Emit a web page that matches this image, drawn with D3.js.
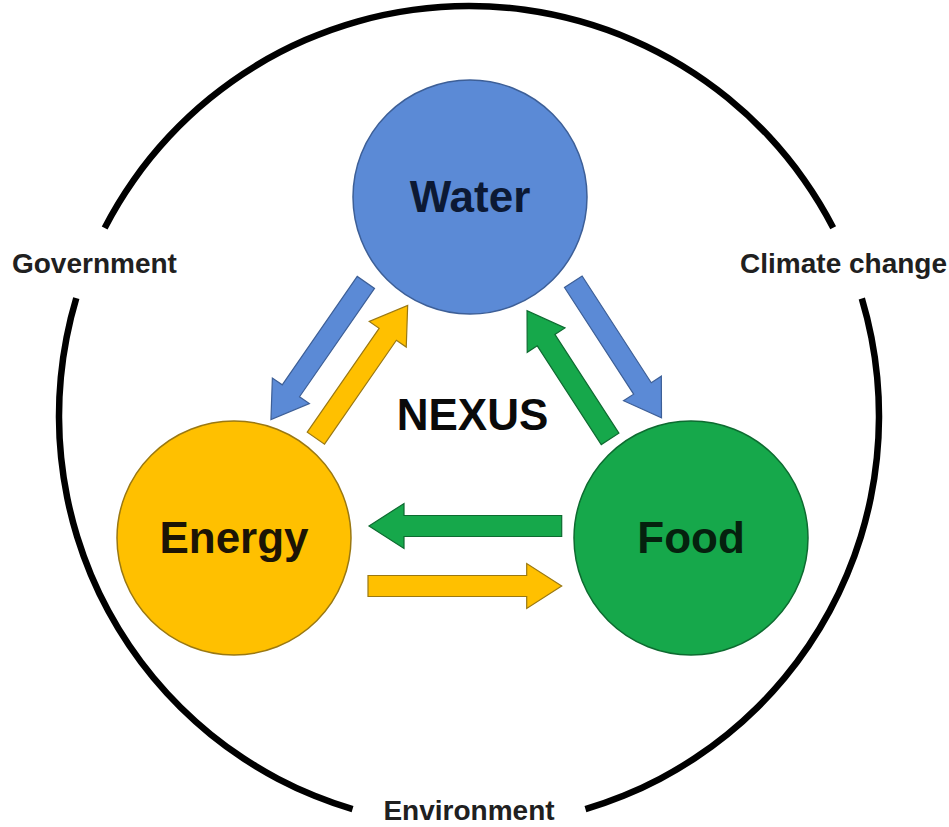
<!DOCTYPE html>
<html>
<head>
<meta charset="utf-8">
<script src="https://cdn.jsdelivr.net/npm/d3@7"></script>
<style>
  body { margin: 0; background: #fff; }
  text { font-family: "Liberation Sans", Arial, sans-serif; font-weight: bold; }
</style>
</head>
<body>
<div id="chart"></div>
<script>
// --- data ---
const nodes = ["Water", "Energy", "Food"];
const flows = [
  ["Water", "Energy"], ["Energy", "Water"],
  ["Water", "Food"], ["Food", "Water"],
  ["Energy", "Food"], ["Food", "Energy"]
];
const contextLabels = ["Government", "Climate change", "Environment"];
const centreLabel = "NEXUS";

// --- layout / style ---
const width = 949, height = 827;
const ring = { cx: 469, cy: 416, r: 410, w: 6.5 };
// angle (deg, clockwise from top), half gap in ring, radius of label
const labelLayout = {
  "Government": { angle: -68, gap: 5.3, r: 404 },
  "Climate change": { angle: 68, gap: 5.35, r: 404 },
  "Environment": { angle: 180, gap: 16.5, r: 396 }
};
const nodeR = 117;
const nodePos = { Water: [470, 197], Energy: [234, 538], Food: [691, 538] };
const nodeFill = { Water: "#5b8ad6", Energy: "#ffc000", Food: "#16a84b" };
const nodeStroke = { Water: "#3d5f97", Energy: "#9a7812", Food: "#0d6b30" };
const nodeText = { Water: "#0c1934", Energy: "#1c1405", Food: "#05210e" };
// per flow: offset outward from triangle centre, trim at start and end
const flowGeom = [
  { off: 37, t0: 129.5, t1: 118.4 }, { off: -10.5, t0: 128.7, t1: 124.7 },
  { off: 40.6, t0: 127.3, t1: 116.9 }, { off: -14, t0: 127.2, t1: 126.5 },
  { off: 48, t0: 134, t1: 129.3 }, { off: -12, t0: 129.3, t1: 135 }
];
const shaftHalf = 10.5, headHalf = 22.5, headLen = 35;

const svg = d3.select("#chart").append("svg")
  .attr("width", width).attr("height", height);
svg.append("rect").attr("width", width).attr("height", height).attr("fill", "#fff");

const rad = (d) => d * Math.PI / 180;

// outer ring with gaps for the labels
const sorted = contextLabels.slice().sort((a, b) =>
  ((labelLayout[a].angle + 360) % 360) - ((labelLayout[b].angle + 360) % 360));
const arc = d3.arc();
const gRing = svg.append("g").attr("transform", `translate(${ring.cx},${ring.cy})`);
sorted.forEach((name, i) => {
  const a = labelLayout[name], b = labelLayout[sorted[(i + 1) % sorted.length]];
  let start = (a.angle + 360) % 360 + a.gap;
  let end = (b.angle + 360) % 360 - b.gap;
  if (end < start) end += 360;
  gRing.append("path")
    .attr("d", arc({ innerRadius: ring.r - ring.w / 2, outerRadius: ring.r + ring.w / 2,
      startAngle: rad(start), endAngle: rad(end) }))
    .attr("fill", "#000");
});

gRing.selectAll("text.ctx")
  .data(contextLabels)
  .enter().append("text")
  .attr("class", "ctx")
  .attr("x", (d) => labelLayout[d].r * Math.sin(rad(labelLayout[d].angle)))
  .attr("y", (d) => -labelLayout[d].r * Math.cos(rad(labelLayout[d].angle)))
  .attr("dy", "0.3em")
  .attr("text-anchor", "middle")
  .style("font-size", "28px")
  .attr("fill", "#202020")
  .text((d) => d);

// arrows
const centroid = [d3.mean(nodes, (n) => nodePos[n][0]), d3.mean(nodes, (n) => nodePos[n][1])];
const line = d3.line();
svg.append("g").selectAll("path")
  .data(flows)
  .enter().append("path")
  .each(function (f, i) {
    const s = nodePos[f[0]], t = nodePos[f[1]], g = flowGeom[i];
    const dx = t[0] - s[0], dy = t[1] - s[1], len = Math.hypot(dx, dy);
    const ux = dx / len, uy = dy / len;
    // normal pointing away from the triangle centre
    let nx = -uy, ny = ux;
    const mx = (s[0] + t[0]) / 2 - centroid[0], my = (s[1] + t[1]) / 2 - centroid[1];
    if (nx * mx + ny * my < 0) { nx = -nx; ny = -ny; }
    const x0 = s[0] + ux * g.t0 + nx * g.off, y0 = s[1] + uy * g.t0 + ny * g.off;
    const L = len - g.t0 - g.t1;
    const pts = [[0, -shaftHalf], [L - headLen, -shaftHalf], [L - headLen, -headHalf], [L, 0],
      [L - headLen, headHalf], [L - headLen, shaftHalf], [0, shaftHalf]];
    d3.select(this)
      .attr("d", line(pts) + "Z")
      .attr("transform", `translate(${x0},${y0}) rotate(${Math.atan2(uy, ux) * 180 / Math.PI})`)
      .attr("fill", nodeFill[f[0]])
      .attr("stroke", nodeStroke[f[0]])
      .attr("stroke-width", 1.2)
      .attr("stroke-linejoin", "miter");
  });

// nodes
const gNodes = svg.append("g").selectAll("g")
  .data(nodes)
  .enter().append("g")
  .attr("transform", (d) => `translate(${nodePos[d][0]},${nodePos[d][1]})`);
gNodes.append("circle")
  .attr("r", nodeR)
  .attr("fill", (d) => nodeFill[d])
  .attr("stroke", (d) => nodeStroke[d])
  .attr("stroke-width", 1.5);
gNodes.append("text")
  .attr("text-anchor", "middle")
  .attr("y", 15)
  .style("font-size", "44px")
  .attr("fill", (d) => nodeText[d])
  .text((d) => d);

// centre label
svg.append("text")
  .attr("x", centroid[0] + 7.5)
  .attr("y", 430)
  .attr("text-anchor", "middle")
  .style("font-size", "44px")
  .attr("fill", "#0a0a0a")
  .text(centreLabel);
</script>
</body>
</html>
